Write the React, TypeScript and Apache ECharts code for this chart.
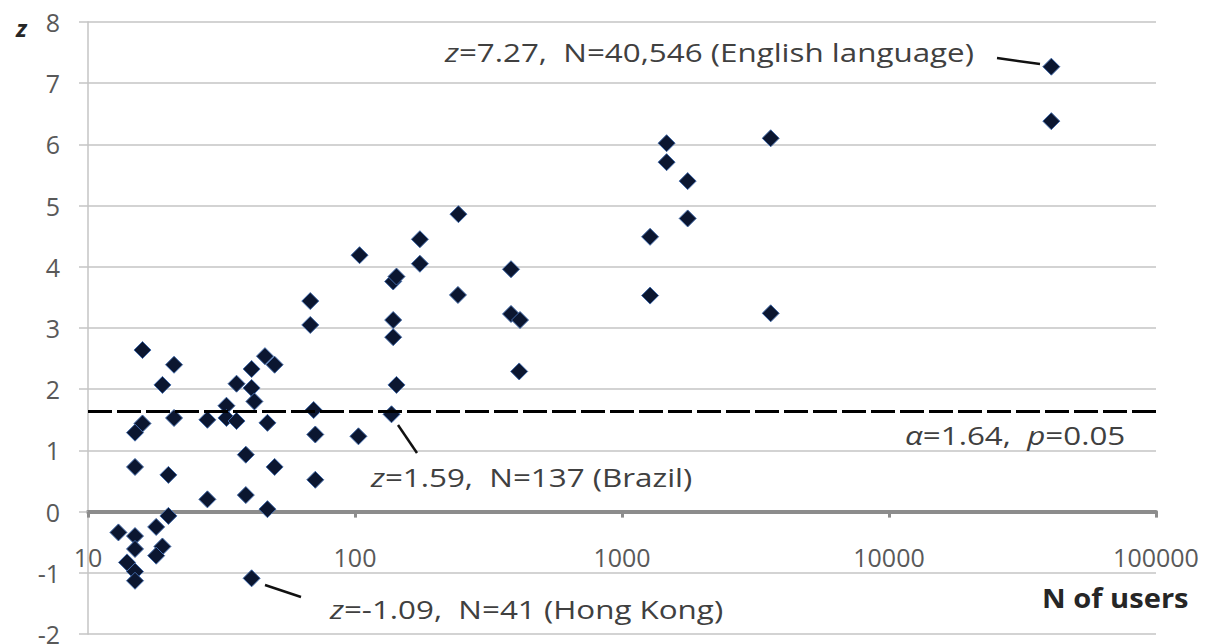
import React, { useEffect, useRef } from "react";
import * as echarts from "echarts";

// N of users (x, log scale) and z-score (y) for each dataset
const usersN = [
  16, 21, 19, 16, 15, 21, 28, 15, 20, 28, 20, 18, 13, 15, 15, 19, 18, 14, 15, 15,
  46, 41, 50, 36, 41, 42, 33, 33, 36, 47, 70, 71, 39, 50, 71, 39, 47, 41,
  68, 68, 104, 103, 139, 143, 139, 139, 143, 137,
  175, 175, 243, 244, 384, 384, 415, 412,
  1274, 1274, 1469, 1469, 1762, 1762, 3605, 3605, 40546, 40546,
];
const zScores = [
  2.64, 2.4, 2.07, 1.44, 1.29, 1.53, 1.5, 0.73, 0.6, 0.2, -0.07, -0.25, -0.34, -0.4, -0.61, -0.57, -0.72, -0.83, -0.98, -1.13,
  2.54, 2.33, 2.4, 2.09, 2.02, 1.8, 1.73, 1.53, 1.48, 1.45, 1.66, 1.26, 0.93, 0.73, 0.52, 0.27, 0.04, -1.09,
  3.44, 3.05, 4.19, 1.23, 3.76, 3.84, 3.13, 2.85, 2.07, 1.59,
  4.45, 4.05, 3.54, 4.86, 3.96, 3.23, 3.13, 2.29,
  4.49, 3.53, 6.02, 5.71, 5.4, 4.79, 6.1, 3.24, 7.27, 6.38,
];
const alphaThreshold = 1.64;
const xTickValues = [10, 100, 1000, 10000, 100000];
const yTickMin = -2;
const yTickMax = 8;

const annEnglish = "{i|z}=7.27,  N=40,546 (English language)";
const annBrazil = "{i|z}=1.59,  N=137 (Brazil)";
const annHongKong = "{i|z}=-1.09,  N=41 (Hong Kong)";
const annAlpha = "{i|α}=1.64,  {i|p}=0.05";
const xTitle = "N of users";
const yTitle = "z";

const FONT = "'Open Sans', 'Noto Sans', sans-serif";
const ANN_SIZE = 25.5;
const ANN_SCALE = 1.23;
const ANN_COLOR = "#404040";

function annText(text: string, x: number, y: number) {
  return {
    type: "text",
    x,
    y,
    scaleX: ANN_SCALE,
    z: 10,
    style: {
      text,
      fontSize: ANN_SIZE,
      fontFamily: FONT,
      fill: ANN_COLOR,
      align: "left",
      verticalAlign: "middle",
      rich: {
        i: { fontStyle: "italic", fontSize: ANN_SIZE, fontFamily: FONT, fill: ANN_COLOR },
      },
    },
  };
}

function leader(x1: number, y1: number, x2: number, y2: number) {
  return {
    type: "line",
    z: 10,
    shape: { x1, y1, x2, y2 },
    style: { stroke: "#111", lineWidth: 2.5 },
  };
}

export default function App() {
  const ref = useRef<HTMLDivElement>(null);
  useEffect(() => {
    if (!ref.current) return;
    const chart = echarts.init(ref.current, undefined, { renderer: "svg" });
    const data = usersN.map((n, i) => [n, zScores[i]]);
    chart.setOption({
      animation: false,
      backgroundColor: "#ffffff",
      textStyle: { fontFamily: FONT },
      grid: {
        left: 88,
        right: 51,
        top: 22,
        bottom: 10,
        containLabel: false,
        outerBoundsMode: "none",
      },
      xAxis: {
        type: "log",
        logBase: 10,
        min: xTickValues[0],
        max: xTickValues[xTickValues.length - 1],
        splitNumber: xTickValues.length - 1,
        axisLine: { show: true, onZero: true, lineStyle: { color: "#8c8c8c", width: 4 } },
        axisTick: { show: true, length: 6, lineStyle: { color: "#8c8c8c", width: 3 } },
        minorTick: { show: false },
        axisLabel: {
          margin: -90,
          color: "#595959",
          fontSize: 25,
          fontFamily: FONT,
          formatter: (v: number) => String(Math.round(v)),
        },
        splitLine: { show: false },
      },
      yAxis: {
        type: "value",
        min: yTickMin,
        max: yTickMax,
        interval: 1,
        axisLine: { show: true, onZero: false, lineStyle: { color: "#c4c4c4", width: 1.5 } },
        axisTick: { show: true, length: 9, lineStyle: { color: "#c4c4c4", width: 1.5 } },
        axisLabel: { margin: 28, color: "#595959", fontSize: 25, fontFamily: FONT },
        splitLine: { show: true, lineStyle: { color: "#c4c4c4", width: 1.5 } },
      },
      series: [
        {
          type: "scatter",
          data,
          symbol: "diamond",
          symbolSize: 17,
          itemStyle: { color: "#0b1630", borderColor: "#4169a8", borderWidth: 1, opacity: 1 },
          markLine: {
            silent: true,
            symbol: "none",
            label: { show: false },
            lineStyle: { color: "#000000", width: 3, type: [24, 5] },
            data: [{ yAxis: alphaThreshold }],
          },
        },
      ],
      graphic: [
        {
          type: "text",
          x: 16,
          y: 27,
          style: {
            text: yTitle,
            fontSize: 24,
            fontFamily: FONT,
            fontWeight: "bold",
            fontStyle: "italic",
            fill: "#262626",
            align: "left",
            verticalAlign: "middle",
          },
        },
        {
          type: "text",
          x: 1042,
          y: 598,
          scaleX: 1.12,
          style: {
            text: xTitle,
            fontSize: 26,
            fontFamily: FONT,
            fontWeight: "bold",
            fill: "#262626",
            align: "left",
            verticalAlign: "middle",
          },
        },
        annText(annEnglish, 445, 52),
        leader(997, 58, 1040, 64),
        annText(annBrazil, 371, 477),
        leader(398, 425, 417, 453),
        annText(annHongKong, 330, 609),
        leader(265, 585, 301, 597),
        annText(annAlpha, 905, 435),
      ],
    });
    return () => chart.dispose();
  }, []);
  return (
    <div
      ref={ref}
      style={{ position: "absolute", left: 0, top: 0, width: 1207, height: 644 }}
    />
  );
}
